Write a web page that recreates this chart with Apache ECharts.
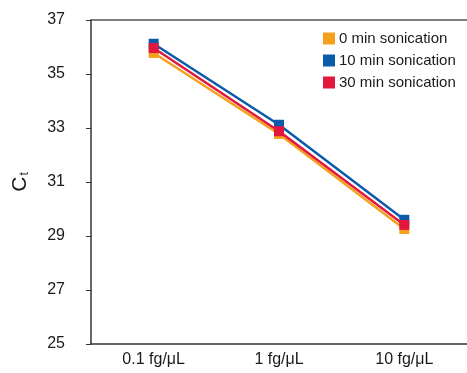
<!DOCTYPE html>
<html><head><meta charset="utf-8">
<script src="https://cdn.jsdelivr.net/npm/echarts@6/dist/echarts.min.js"></script>
<style>html,body{margin:0;padding:0;background:#fff}#c{width:467px;height:373px}</style>
</head><body><div id="c"></div>
<script>
const categories = ['0.1 fg/\u03bcL', '1 fg/\u03bcL', '10 fg/\u03bcL'];
const seriesNames = ['0 min sonication', '10 min sonication', '30 min sonication'];
const min0 = [35.78, 32.78, 29.26];
const min10 = [36.12, 33.12, 29.6];
const min30 = [35.96, 32.88, 29.41];
const yTicks = [25, 27, 29, 31, 33, 35, 37];
const colors = ['#F5A01A', '#0A5BA9', '#E3173E'];
const font = 'Liberation Sans, Arial, Helvetica, sans-serif';

const chart = echarts.init(document.getElementById('c'), null, {renderer: 'canvas'});
const vals = [min0, min10, min30];
chart.setOption({
  animation: false,
  textStyle: {fontFamily: font},
  grid: {left: 91, top: 20, right: 0, bottom: 29},
  legend: {
    orient: 'vertical', left: 318, top: 26,
    itemWidth: 12, itemHeight: 12, itemGap: 7,
    icon: 'rect',
    textStyle: {fontSize: 15, color: '#1a1a1a', fontFamily: font, padding: [0,0,0,-1]},
    data: seriesNames
  },
  xAxis: [{
    type: 'category', data: categories, boundaryGap: true,
    axisLine: {lineStyle: {color: '#333', width: 1.5}},
    axisTick: {alignWithLabel: true, length: 5, lineStyle: {color: '#333'}},
    axisLabel: {fontSize: 16, color: '#1a1a1a', margin: 8}
  }, {
    type: 'category', data: categories, position: 'top',
    axisLine: {lineStyle: {color: '#555', width: 1.5}},
    axisTick: {show: false}, axisLabel: {show: false}
  }],
  yAxis: {
    type: 'value', min: yTicks[0], max: yTicks[yTicks.length-1], interval: 2,
    axisLine: {show: true, lineStyle: {color: '#333', width: 1.5}},
    axisTick: {show: true, length: 5, lineStyle: {color: '#333'}},
    splitLine: {show: false},
    axisLabel: {fontSize: 16, color: '#1a1a1a', margin: 26},
    name: '{a|C}{b|t}', nameLocation: 'middle', nameGap: 60, nameRotate: 90,
    nameTextStyle: {
      rich: {
        a: {fontSize: 21, color: '#1a1a1a', fontFamily: font},
        b: {fontSize: 12, color: '#1a1a1a', fontFamily: font, verticalAlign: 'bottom', padding: [10,0,0,1]}
      }
    }
  },
  series: seriesNames.map((n, i) => ({
    name: n, type: 'line', data: vals[i],
    symbol: 'rect', symbolSize: 10, showSymbol: true,
    itemStyle: {color: colors[i]},
    lineStyle: {color: colors[i], width: 2.5},
    z: 2 + i
  }))
});
</script></body></html>
